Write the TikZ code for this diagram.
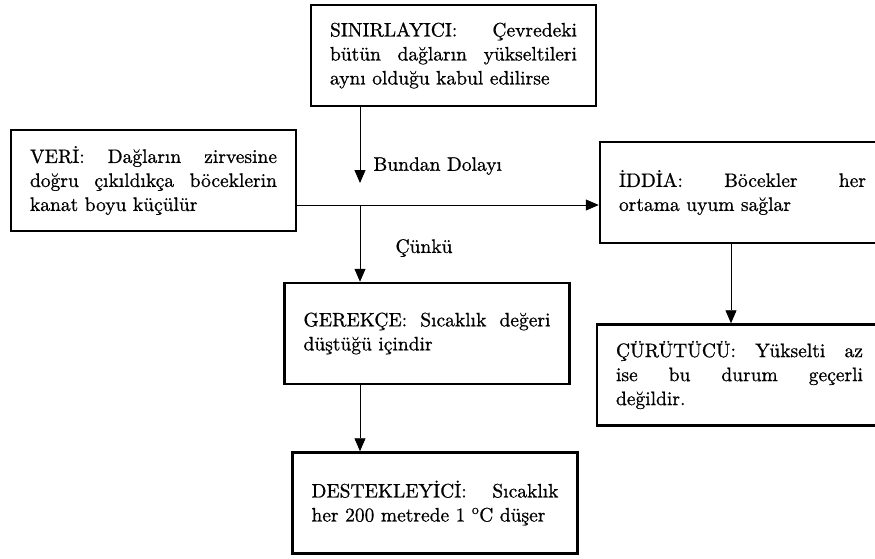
\documentclass[tikz,border=0pt]{standalone}
\usepackage{fontspec}
\setmainfont{lmroman10-regular.otf}[FakeBold=0.8]
\usetikzlibrary{arrows.meta}
\tikzset{
	kutu/.style={draw, line width=2.5pt, text width=247pt, align=justify, inner xsep=19pt, inner ysep=4pt, minimum height=101pt, execute at begin node={\hyphenpenalty=10000\relax}},
	ok/.style={line width=0.9pt, -{Triangle[width=11pt,length=13pt]}}
}

\begin{document}
\begin{tikzpicture}[x=1pt, y=-1pt, font=\fontsize{19.5}{24}\selectfont]
	\clip (0,0) rectangle (875,558);
	% boxes
	\node[kutu] (sin) at (453.5,55.5) {SINIRLAYICI: Çevredeki\linebreak bütün dağların yükseltileri\linebreak aynı olduğu kabul edilirse};
	\node[kutu] (veri) at (153.5,180.5) {VERİ: Dağların zirvesine\linebreak doğru çıkıldıkça böceklerin\linebreak kanat boyu küçülür};
	\node[kutu] (iddia) at (742.5,192.5) {İDDİA: Böcekler her\linebreak ortama uyum sağlar};
	\node[kutu] (gerekce) at (427,333.5) {GEREKÇE: Sıcaklık değeri\linebreak düştüğü içindir};
	\node[kutu] (destek) at (435,503) {DESTEKLEYİCİ: Sıcaklık\linebreak her 200 metrede 1 \textsuperscript{o}C düşer};
	\node[kutu] (curut) at (739.5,375) {ÇÜRÜTÜCÜ: Yükselti az\linebreak ise bu durum geçerli\linebreak değildir.};
	% arrows
	\coordinate (j) at (360,205);
	\coordinate (bd) at (360,183);
	\draw[ok] (sin.south -| bd) -- (bd);
	\node[anchor=west] (bundan) at (370,166) {Bundan Dolayı};
	\draw[ok] (veri.east |- j) -- (iddia.west |- j);
	\draw[ok] (j) -- (gerekce.north -| j);
	\node[anchor=west] (cunku) at (392,248) {Çünkü};
	\draw[ok] (gerekce.south -| j) -- (destek.north -| j);
	\draw[ok] ([xshift=-11.5pt]iddia.south) -- ([xshift=-11.5pt]iddia.south |- curut.north);
\end{tikzpicture}
\end{document}
